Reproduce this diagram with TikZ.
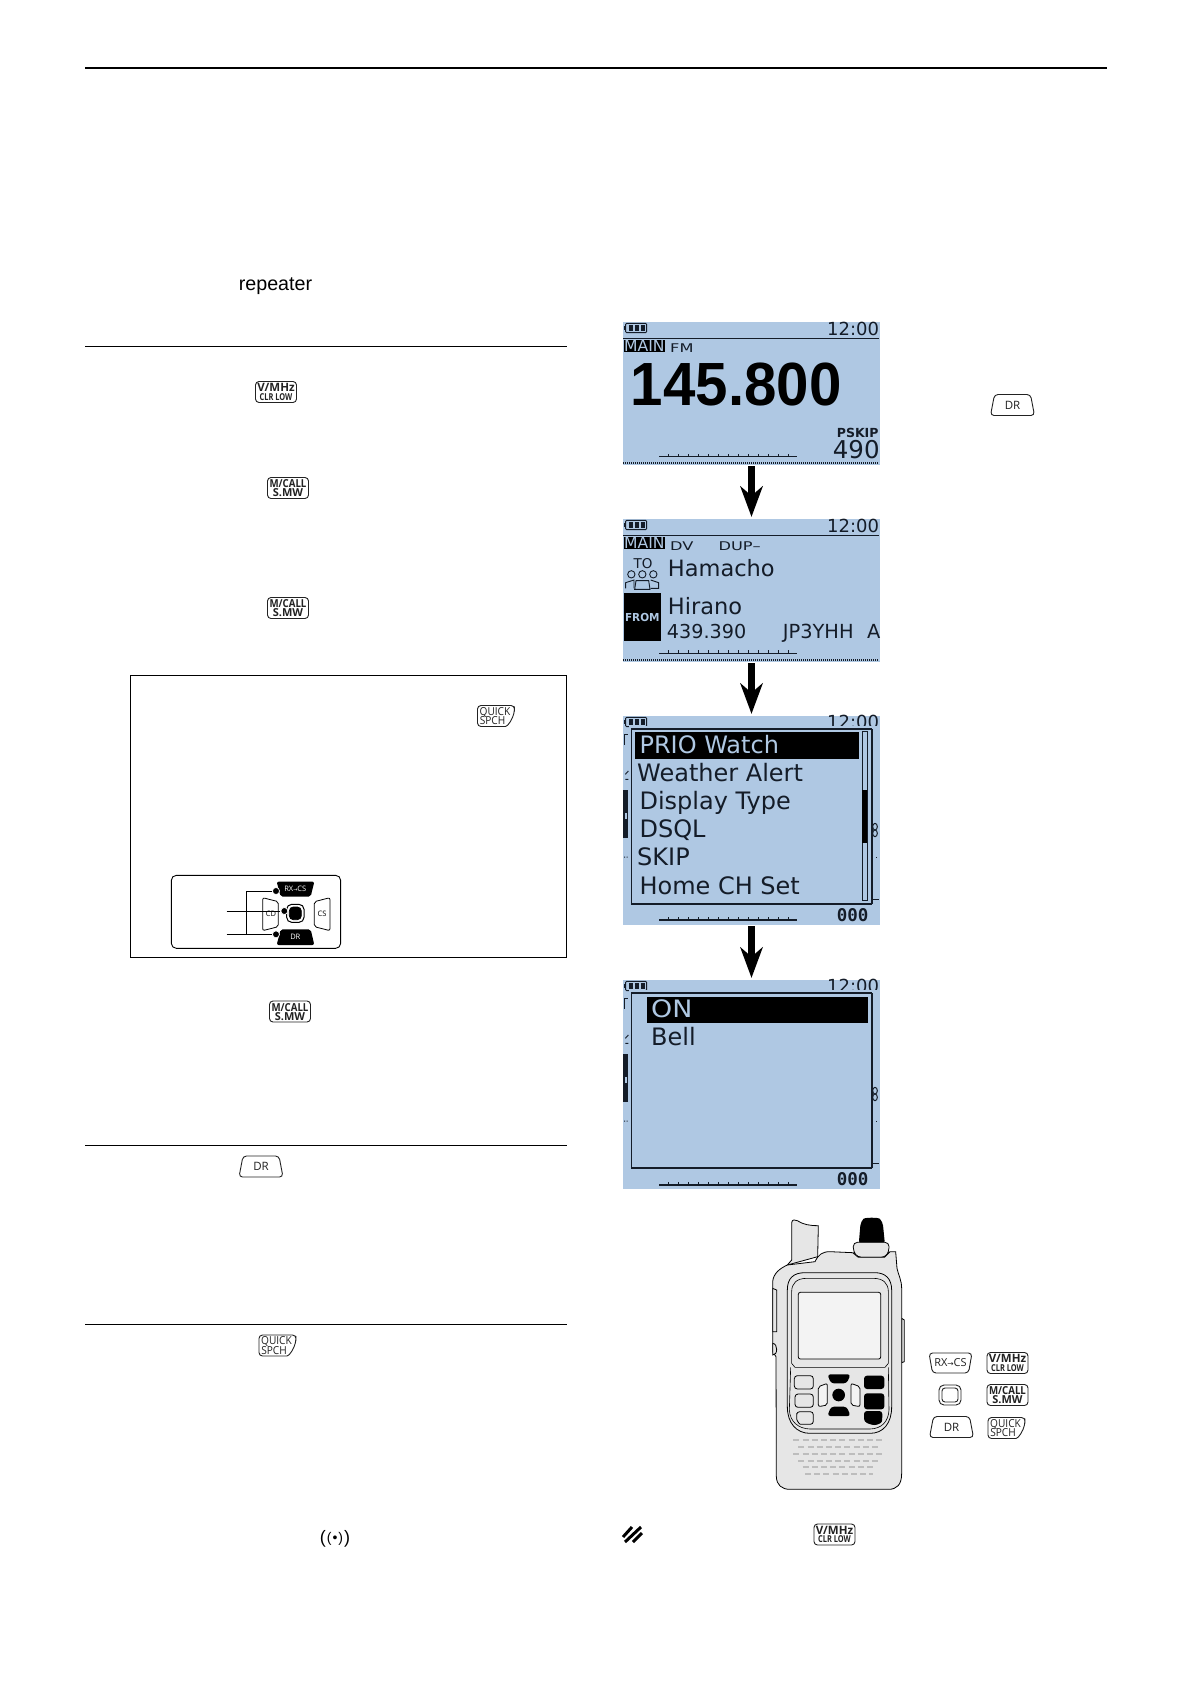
\documentclass[tikz,border=0pt]{standalone}
\usepackage{fontspec}
\usepackage{graphicx}
\setmainfont{Liberation Sans}
\newfontfamily\lcdfont{DejaVu Sans}
\newfontfamily\lcdmono{DejaVu Sans Mono}
\newfontfamily\keyfont{Open Sans}
\newcommand\keyweight{\bfseries}
\usetikzlibrary{arrows.meta}
\definecolor{lcdbg}{HTML}{AFC8E3}
\definecolor{lcdink}{HTML}{141C28}
\definecolor{radiobody}{HTML}{E6E6E6}
\definecolor{radioscreen}{HTML}{F3F3F3}
\definecolor{grill}{HTML}{BDBDBD}
\definecolor{keyink}{HTML}{222222}
\tikzset{
  rule/.style={line width=1pt,black},
  lcdscreen/.style={rectangle,fill=lcdbg,inner sep=0pt,minimum width=257pt},
  flowarrow/.style={line width=7pt,black,shorten <=1pt,shorten >=2pt,
    -{Stealth[length=31pt,width=23pt,inset=10pt,line width=0pt]}},
  lcdtext/.style={anchor=base west,inner sep=0pt,text=lcdink},
  keyframe/.style={draw=keyink,line width=0.9pt,rounded corners=3.5pt,fill=white},
  keytext/.style={inner sep=0pt,text=keyink,align=center},
  radioline/.style={draw=black,line width=0.8pt},
  grillrow/.style={draw=grill,line width=2.3pt,dash pattern=on 6pt off 3.2pt},
}
% LCD text helper: name, x, y, size, text
\newcommand\lcdt[5]{\node[lcdtext,font=\lcdfont\fontsize{#4}{#4}\selectfont] (#1) at (#2,#3) {#5};}
% wide small caption on the LCD
\newcommand\lcdw[4]{\node[lcdtext,font=\lcdfont\fontsize{12}{12}\selectfont] (#1) at (#2,#3) {\scalebox{1.35}[1]{#4}};}
% signal bar
\newcommand\lcdbar[1]{%
  \draw[line width=1.2pt,lcdink] (147,#1) -- (562,#1);
  \foreach \tx in {175,205,...,535}{\draw[line width=1.2pt,lcdink] (\tx,#1) -- ++(0,-9);}
}
% battery icon: top y
\newcommand\lcdbatt[1]{%
  \draw[line width=0.9pt,lcdink,rounded corners=1pt] (47,#1+2) rectangle (110,#1+30);
  \fill[lcdink] (42,#1+10) rectangle (47,#1+22);
  \foreach \bx in {56,74,92}{\fill[lcdink] (\bx,#1+7) rectangle (\bx+12,#1+25);}
}
\newcommand\mainrow[2]{% prefix, top y
  \draw[line width=1.2pt,lcdink] (40,#2+48) -- (808,#2+48);
  \fill[black] (42,#2+53) rectangle (165,#2+88);
  \node[inner sep=0pt,text=lcdbg,font=\lcdfont\fontsize{15.6}{15.6}\selectfont] (#1main) at (103,#2+71) {MAIN};
}
\newcommand\lcdremnants[1]{% y offset top of screen, left/right fragments behind the menu
  \fill[lcdink] (40,#1+222) rectangle (55,#1+367);
  \fill[lcdbg] (46,#1+290) rectangle (52,#1+310);
  \draw[line width=1pt,lcdink] (42,#1+55) -- (42,#1+88) (42,#1+55) -- (54,#1+55);
  \draw[line width=0.9pt,lcdink] (46,#1+175) -- (55,#1+165) (46,#1+190) -- (55,#1+190);
  \fill[lcdink] (42,#1+422) rectangle ++(3,3) (50,#1+422) rectangle ++(3,3);
  \fill[lcdink] (797,#1+422) rectangle ++(3,3);
  \draw[line width=1pt,lcdink] (785,#1+550) -- (808,#1+550);
  \draw[line width=1pt,lcdink] (795,#1+332) circle (7 and 10) (795,#1+352) circle (7 and 10);
}
\begin{document}
\begin{tikzpicture}[x=1pt,y=-1pt,
  dkey/.pic={
    \draw[keyframe] (-22,10.5) -- (-18,-10.5) -- (18,-10.5) -- (22,10.5) -- cycle;
    \node[keytext,font=\keyfont\fontsize{11.5}{11.5}\selectfont] (-t) at (0,0) {DR};
  },
  vkey/.pic={
    \draw[keyframe] (-20.5,-10.5) rectangle (20.5,10.5);
    \node[keytext,font=\keyfont\keyweight\fontsize{11.5}{11.5}\selectfont] (-a) at (0,-4.2) {V/MHz};
    \node[keytext,font=\keyfont\keyweight\fontsize{9.5}{9.5}\selectfont] (-b) at (0,5) {\scalebox{.78}[1]{CLR LOW}};
  },
  mkey/.pic={
    \draw[keyframe] (-20.5,-10.5) rectangle (20.5,10.5);
    \node[keytext,font=\keyfont\keyweight\fontsize{11}{11}\selectfont] (-a) at (0,-4.2) {\scalebox{.88}[1]{M/CALL}};
    \node[keytext,font=\keyfont\keyweight\fontsize{11}{11}\selectfont] (-b) at (0,4.6) {S.MW};
  },
  qkey/.pic={
    \draw[keyframe] (-18.5,-10.5) -- (18.5,-10.5) -- (18.5,-6) .. controls (17,2) and (12,10.5) .. (6,10.5) -- (-18.5,10.5) -- cycle;
    \node[keytext,font=\keyfont\fontsize{11}{11}\selectfont] (-a) at (-1,-3.8) {\scalebox{.92}[1]{QUICK}};
    \node[keytext,font=\keyfont\fontsize{11}{11}\selectfont] (-b) at (-3.5,4.6) {\scalebox{.92}[1]{SPCH}};
  },
  rkey/.pic={
    \draw[keyframe] (-21.5,-10) -- (21.5,-10) -- (18,10) -- (-18,10) -- cycle;
    \node[keytext,font=\keyfont\fontsize{11}{11}\selectfont] (-t) at (0,0) {RX{\lcdfont\fontsize{7.5}{7.5}\selectfont→}CS};
  }]
\useasboundingbox (0,0) rectangle (1191,1684);
\fill[white] (0,0) rectangle (1191,1684);

% page rules
\coordinate (ruleTopL) at (85,68);    \coordinate (ruleTopR) at (1107,68);
\coordinate (ruleAL) at (85,346.5);   \coordinate (ruleAR) at (567,346.5);
\coordinate (ruleBL) at (85,1145.5);  \coordinate (ruleBR) at (567,1145.5);
\coordinate (ruleCL) at (85,1324.5);  \coordinate (ruleCR) at (567,1324.5);
\draw[rule,line width=2pt] (ruleTopL) -- (ruleTopR);
\draw[rule] (ruleAL) -- (ruleAR);
\draw[rule] (ruleBL) -- (ruleBR);
\draw[rule] (ruleCL) -- (ruleCR);

\node[anchor=base west,inner sep=0pt,font=\fontsize{19.7}{19.7}\selectfont] (repeaterword) at (238.6,290) {repeater};

% key glyphs, left column
\pic (keyA) at (276,392) {vkey};
\pic (keyB) at (288,488) {mkey};
\pic (keyC) at (288,608) {mkey};
\pic (keyD) at (290,1011.5) {mkey};
\pic (keyE) at (261,1166.5) {dkey};
\pic (keyF) at (277.5,1345.5) {qkey};

% note box
\node[draw,line width=0.9pt,rectangle,inner sep=0pt,minimum width=436.5pt,minimum height=282pt] (notebox) at (348.2,816) {};
\pic (keyG) at (496,716) {qkey};

% key-pad inset
\begin{scope}[shift={(120,670)},scale=1/3]
  \draw[line width=0.9pt,rounded corners=5pt] (154,616) rectangle (662,835);
  \fill[black,rounded corners=2pt] (470,635) -- (583,635) -- (572,680) -- (482,680) -- cycle;
  \node[inner sep=0pt,text=white,font=\keyfont\fontsize{7.5}{7.5}\selectfont] (padrx) at (526,657) {RX{\lcdfont\fontsize{5}{5}\selectfont→}CS};
  \fill[black,rounded corners=2pt] (482,778) -- (572,778) -- (583,825) -- (470,825) -- cycle;
  \node[inner sep=0pt,text=white,font=\keyfont\fontsize{7.5}{7.5}\selectfont] (paddr) at (526,801) {DR};
  \draw[line width=0.8pt,rounded corners=2pt] (428,683) -- (475,695) -- (475,770) -- (428,782) -- cycle;
  \node[inner sep=0pt,font=\keyfont\fontsize{7.5}{7.5}\selectfont] (padcd) at (453,732) {CD};
  \draw[line width=0.8pt,rounded corners=2pt] (583,695) -- (630,683) -- (630,782) -- (583,770) -- cycle;
  \node[inner sep=0pt,font=\keyfont\fontsize{7.5}{7.5}\selectfont] (padcs) at (606,732) {CS};
  \fill[white,rounded corners=4pt] (485,690) rectangle (567,770);
  \draw[black,fill=black,line width=0.8pt,rounded corners=4pt] (508,711) rectangle (544,749);
  \draw[black,line width=1pt,rounded corners=5pt] (500,703) rectangle (552,757);
  \node[circle,fill=black,draw=white,line width=0.7pt,inner sep=0pt,minimum size=7pt] (dotA) at (468,663) {};
  \node[circle,fill=black,draw=white,line width=0.7pt,inner sep=0pt,minimum size=7pt] (dotB) at (493,723) {};
  \node[circle,fill=black,draw=white,line width=0.7pt,inner sep=0pt,minimum size=7pt] (dotC) at (468,793) {};
  \coordinate (leadB) at (320,723);
  \coordinate (leadC) at (320,793);
  \draw[line width=0.9pt] (dotA.west) -| (380,793);
  \draw[line width=0.9pt] (leadB) -- (dotB.west);
  \draw[line width=0.9pt] (leadC) -- (dotC.west);
\end{scope}

% LCD screens
\node[lcdscreen,minimum height=143pt] (scrA) at (751.5,393.5) {};
\node[lcdscreen,minimum height=143pt] (scrB) at (751.5,590.5) {};
\node[lcdscreen,minimum height=209pt] (scrC) at (751.5,820.5) {};
\node[lcdscreen,minimum height=209pt] (scrD) at (751.5,1084.5) {};
\draw[flowarrow] (scrA.south) -- (scrB.north);
\draw[flowarrow] (scrB.south) -- (scrC.north);
\draw[flowarrow] (scrC.south) -- (scrD.north);

% screen A and B
\begin{scope}[shift={(610,310)},scale=1/3]
  \lcdbatt{38}
  \lcdt{aclock}{651}{75}{18}{12:00}
  \mainrow{a}{37}
  \lcdw{amode}{180}{128}{FM}
  \node[lcdtext,text=black,font=\bfseries\fontsize{61}{61}\selectfont] (afreq) at (62,287) {\scalebox{.955}[1]{145.800}};
  \node[lcdtext,font=\lcdfont\bfseries\fontsize{12.5}{12.5}\selectfont] (apskip) at (680,381) {PSKIP};
  \lcdt{aoff}{668}{445}{24.5}{490}
  \lcdbar{440}
  \draw[lcdink,line width=1.4pt,dash pattern=on 1pt off 1pt] (40,459) -- (808,459);

  \lcdbatt{629}
  \lcdt{bclock}{651}{666}{18}{12:00}
  \mainrow{b}{628}
  \lcdw{bmode}{180}{720}{DV}
  \lcdw{bdup}{325}{720}{DUP–}
  \lcdt{bto}{70}{775}{13.5}{TO}
  \begin{scope}[lcdink,line width=0.9pt]
    \draw (64,793) circle (11) (97,793) circle (11) (130,793) circle (11);
    \draw (47,835) -- (47,818) -- (72,810) -- (72,835);
    \draw (122,810) -- (146,818) -- (146,835) -- (122,835);
    \draw (74,838) -- (78,812) -- (116,812) -- (120,838) -- cycle;
  \end{scope}
  \lcdt{bname}{173}{798}{22.5}{Hamacho}
  \fill[black] (42,850) rectangle (152,993);
  \node[inner sep=0pt,text=lcdbg,font=\lcdfont\bfseries\fontsize{11}{11}\selectfont] (bfrom) at (97,921) {\scalebox{.95}[1]{FROM}};
  \lcdt{bcall}{173}{912}{22.5}{Hirano}
  \lcdt{bfreq}{170}{985}{19.2}{439.390}
  \lcdt{brpt}{518}{985}{19.4}{JP3YHH}
  \lcdt{bsfx}{771}{985}{19.4}{A}
  \lcdbar{1030}
  \draw[lcdink,line width=1.4pt,dash pattern=on 1pt off 1pt] (40,1050) -- (808,1050);
\end{scope}

% screen C and D
\begin{scope}[shift={(610,700)},scale=1/3]
  \lcdbatt{50}
  \lcdt{cclock}{651}{86}{18}{12:00}
  \lcdremnants{48}
  \fill[lcdbg] (58,77) rectangle (810,90);
  \draw[lcdink,line width=1.1pt,fill=lcdbg] (65,87) rectangle (785,612);
  \draw[lcdink,line width=2.2pt] (65,612) -- (785,612) (785,87) -- (785,612);
  \fill[black] (75,95) rectangle (748,178);
  \node[lcdtext,text=lcdbg,font=\lcdfont\fontsize{24}{24}\selectfont] (citemA) at (88,160) {PRIO Watch};
  \lcdt{citemB}{81}{245}{24}{Weather Alert}
  \lcdt{citemC}{88}{328}{24}{Display Type}
  \lcdt{citemD}{88}{412}{24}{DSQL}
  \lcdt{citemE}{81}{495}{24}{SKIP}
  \lcdt{citemF}{88}{582}{24}{Home CH Set}
  \draw[lcdink,line width=0.9pt] (757,95) rectangle (772,600);
  \fill[black] (757,270) rectangle (772,430);
  \node[lcdtext,font=\lcdmono\bfseries\fontsize{17.5}{17.5}\selectfont] (coff) at (680,665) {000};
  \lcdbar{660}

  \lcdbatt{842}
  \lcdt{dclock}{651}{878}{18}{12:00}
  \lcdremnants{840}
  \fill[lcdbg] (58,869) rectangle (810,882);
  \draw[lcdink,line width=1.1pt,fill=lcdbg] (65,879) rectangle (785,1405);
  \draw[lcdink,line width=2.2pt] (65,1405) -- (785,1405) (785,879) -- (785,1405);
  \fill[black] (110,890) rectangle (773,970);
  \node[lcdtext,text=lcdbg,font=\lcdfont\fontsize{24}{24}\selectfont] (ditemA) at (123,952) {\scalebox{1.12}[1]{ON}};
  \lcdt{ditemB}{123}{1035}{24}{Bell}
  \node[lcdtext,font=\lcdmono\bfseries\fontsize{17.5}{17.5}\selectfont] (doff) at (680,1457) {000};
  \lcdbar{1455}
\end{scope}

\pic (keyH) at (1012.5,405) {dkey};

% transceiver
\begin{scope}[shift={(750,1210)},scale=1/3]
  \path[radioline,fill=radiobody] (112,165) -- (125,150) -- (125,38) .. controls (126,28) and (135,28) .. (142,32) .. controls (160,44) and (180,47) .. (205,47) -- (203,140) -- cycle;
  \fill[black,rounded corners=4pt] (326,105) -- (332,35) .. controls (345,22) and (385,22) .. (398,35) -- (405,105) -- cycle;
  \path[radioline,fill=radiobody,rounded corners=4pt] (310,97) -- (417,97) -- (417,125) -- (405,142) -- (323,142) -- (310,125) -- cycle;
  \path[radioline,fill=radiobody] (455,325) -- (463,330) -- (463,455) -- (455,458) -- cycle;
  \path[radioline,fill=radiobody] (112,165) -- (195,155) .. controls (205,135) and (215,125) .. (240,125) -- (308,128) -- (325,142) -- (403,142) -- (420,125) -- (437,125) -- (441,175) .. controls (445,195) and (455,210) .. (455,235) -- (455,790) .. controls (455,825) and (440,838) .. (415,838) -- (120,838) .. controls (95,838) and (80,825) .. (79,800) -- (78,440) -- (68,425) -- (68,215) .. controls (70,190) and (90,175) .. (112,165) -- cycle;
  \path[radioline,fill=radiobody] (68,235) -- (80,240) -- (80,365) -- (68,365) -- cycle;
  \draw[radioline,fill=radiobody] (68,400) .. controls (76,400) and (80,410) .. (80,418) .. controls (80,428) and (76,435) .. (68,435) -- cycle;
  \draw[radioline] (112,240) .. controls (112,205) and (130,188) .. (165,188) -- (375,188) .. controls (405,188) and (425,205) .. (425,240) -- (425,590) .. controls (425,640) and (400,670) .. (360,670) -- (180,670) .. controls (140,670) and (112,640) .. (112,590) -- cycle;
  \draw[radioline,line width=0.6pt] (125,245) .. controls (125,220) and (140,205) .. (170,205) -- (370,205) .. controls (400,205) and (415,220) .. (415,245) -- (415,460) -- (405,472) -- (135,472) -- (125,460) -- cycle;
  \draw[radioline,line width=0.6pt] (122,472) -- (118,600) .. controls (120,635) and (145,656) .. (180,657) -- (360,657) .. controls (395,656) and (415,635) .. (417,600) -- (415,472);
  \draw[radioline,fill=radioscreen,rounded corners=2pt] (145,247) rectangle (392,447);
  \draw[radioline,rounded corners=3pt] (133,497) rectangle (190,537);
  \draw[radioline,rounded corners=3pt] (135,552) rectangle (190,592);
  \draw[radioline,rounded corners=3pt] (140,605) -- (190,605) -- (190,643) -- (160,643) .. controls (148,643) and (140,630) .. (140,618) -- cycle;
  \fill[black,rounded corners=3pt] (342,497) rectangle (403,537);
  \fill[black,rounded corners=3pt] (342,550) rectangle (403,598);
  \fill[black,rounded corners=3pt] (342,603) -- (397,603) -- (397,625) .. controls (395,640) and (380,645) .. (365,645) -- (342,635) -- cycle;
  \fill[black,rounded corners=3pt] (232,493) -- (302,493) -- (290,520) -- (243,520) -- cycle;
  \fill[black,rounded corners=3pt] (243,590) -- (290,590) -- (302,618) -- (232,618) -- cycle;
  \fill[black] (266,555) circle (19);
  \draw[radioline,fill=radioscreen,rounded corners=2pt] (205,530) -- (232,520) -- (232,585) -- (205,590) -- cycle;
  \draw[radioline,fill=radioscreen,rounded corners=2pt] (303,520) -- (330,530) -- (330,590) -- (303,585) -- cycle;
  \draw[grillrow] (130,691) -- (405,691);
  \draw[grillrow] (145,712) -- (392,712);
  \draw[grillrow] (130,732) -- (405,732);
  \draw[grillrow] (145,752) -- (392,752);
  \draw[grillrow] (158,772) -- (378,772);
  \draw[grillrow] (165,792) -- (368,792);
\end{scope}

% key legend beside the transceiver
\pic (keyR) at (950.5,1363) {rkey};
\pic (keyS) at (1007.5,1363) {vkey};
\draw[keyink,line width=0.9pt,rounded corners=5pt] (939,1385) rectangle (961,1405);
\draw[keyink,line width=0.9pt,rounded corners=3pt] (942,1388) rectangle (958,1402);
\pic (keyT) at (1007.5,1395) {mkey};
\pic (keyU) at (951.5,1427) {dkey};
\pic (keyV) at (1006.5,1428) {qkey};

% bottom note
\draw[line width=3pt] (623,1537) -- (632,1527) (625,1542) -- (641,1527) (633,1542) -- (642,1533);
\pic (keyW) at (834.5,1534.5) {vkey};
\node[inner sep=0pt,font=\fontsize{18}{18}\selectfont] (signal) at (335,1539) {(\hspace{1pt}\raisebox{1.3pt}{\fontsize{14}{14}\selectfont(}\hspace{1pt}\raisebox{1.6pt}{\fontsize{14}{14}\selectfont•}\hspace{1pt}\raisebox{1.3pt}{\fontsize{14}{14}\selectfont)}\hspace{1pt})};
\end{tikzpicture}
\end{document}
